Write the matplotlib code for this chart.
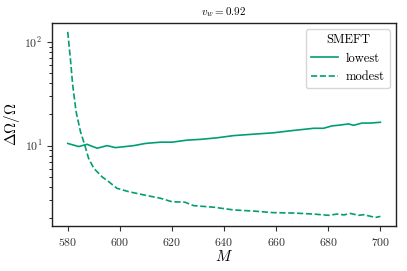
import numpy as np
import matplotlib
matplotlib.use("Agg")
import matplotlib.pyplot as plt

# values
M_lowest = [580, 584.2, 587.4, 591.3, 595.1, 598.3, 605.3, 609.8, 615.6, 620,
            625.8, 631, 637.3, 643.7, 651.4, 659, 665.4, 674.4, 678.2, 681.4,
            684.6, 687.8, 689.7, 692.9, 696.1, 700]
dO_lowest = [10.5, 9.8, 10.3, 9.44, 10.0, 9.57, 10.0, 10.5, 10.8, 10.8,
             11.3, 11.5, 11.9, 12.5, 12.9, 13.3, 13.9, 14.7, 14.7, 15.5,
             15.8, 16.2, 15.7, 16.5, 16.5, 16.8]

M_modest = [580, 581, 581.9, 583.2, 584.9, 586.5, 588, 590, 593.2, 595.7, 598.9,
            603.4, 609.2, 615.6, 620, 625, 628.3, 636, 643.7, 651.4, 659, 666.7,
            674.4, 680.2, 683.4, 686, 688.5, 691.7, 693.6, 698.1, 700]
dO_modest = [125, 69.7, 38.5, 21.3, 13.6, 10.2, 7.55, 6.05, 5.0, 4.5, 3.88,
             3.6, 3.35, 3.11, 2.88, 2.85, 2.64, 2.55, 2.40, 2.34, 2.26, 2.24,
             2.19, 2.13, 2.19, 2.15, 2.22, 2.13, 2.16, 2.03, 2.08]

plt.rcParams['font.family'] = 'serif'
plt.rcParams['font.serif'] = ['cmr10']
plt.rcParams['mathtext.fontset'] = 'cm'
plt.rcParams['axes.formatter.use_mathtext'] = True

green = '#029e73'

fig = plt.figure(figsize=(4.07, 2.71), dpi=100)
ax = fig.add_axes([0.128, 0.166, 0.845, 0.749])

ax.plot(M_lowest, dO_lowest, '-', color=green, lw=1.2, label='lowest')
ax.plot(M_modest, dO_modest, '--', color=green, lw=1.2, label='modest')
ax.set_yscale('log')
ax.set_xlim(574, 706)
ax.set_ylim(1.68, 152)
ax.set_xticks([580, 600, 620, 640, 660, 680, 700])

ax.set_xlabel(r'$M$', fontsize=11, labelpad=1)
ax.set_ylabel(r'$\Delta\Omega/\Omega$', fontsize=11, labelpad=2)
ax.set_title(r'$v_w = 0.92$', fontsize=8, pad=6)
ax.tick_params(labelsize=8.5, colors='#333333', labelcolor='#333333')
for s in ax.spines.values():
    s.set_color('#222222')
    s.set_linewidth(1.0)

leg = ax.legend(title='SMEFT', fontsize=9, title_fontsize=9, loc='upper right',
                handlelength=2.2, handletextpad=0.6, framealpha=0.8)
leg.get_frame().set_edgecolor('#cccccc')

fig.savefig('out.png', dpi=100)
